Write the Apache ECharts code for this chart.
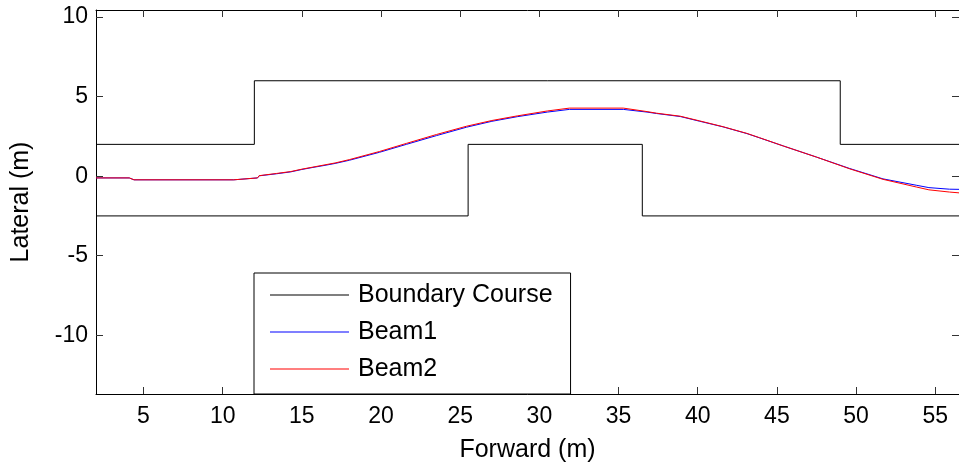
<!DOCTYPE html>
<html lang="en">
<head>
  <meta charset="UTF-8">
  <script src="https://cdn.jsdelivr.net/npm/echarts@6/dist/echarts.min.js"></script>
  <title>Boundary Course</title>
  <style>
    html, body { margin: 0; padding: 0; background: #fff; }
    #main { width: 959px; height: 472px; }
  </style>
</head>
<body>
  <div id="main"></div>
  <script>
    // course boundary (upper and lower walls)
    var upperX = [2, 12, 12, 49, 49, 56.5]
    var upperY = [2, 2, 6, 6, 2, 2]
    var lowerX = [2, 25.5, 25.5, 36.5, 36.5, 56.5]
    var lowerY = [-2.5, -2.5, 2, 2, -2.5, -2.5]

    // beam paths
    var beamX = [2, 4.1, 4.4, 10.7, 10.8, 12.2, 12.3, 13.4, 14.3, 15.0, 15.7, 16.4, 17.1, 18.0, 19.9, 21.6, 23.5, 25.4, 27.0, 28.6, 30.5, 31.9, 35.3, 36.8, 37.4, 38.9, 40.1, 41.6, 43.1, 43.9, 45.4, 47.5, 49.6, 51.7, 53.8, 54.6, 55.9, 56.5]
    var beam1Y = [-0.11, -0.11, -0.23, -0.23, -0.11, -0.11, 0.02, 0.15, 0.27, 0.42, 0.55, 0.67, 0.8, 1.0, 1.5, 2.0, 2.55, 3.08, 3.45, 3.74, 4.03, 4.2, 4.2, 4.03, 3.94, 3.75, 3.46, 3.1, 2.68, 2.41, 1.9, 1.2, 0.48, -0.17, -0.57, -0.72, -0.82, -0.83]
    var beam2Y = [-0.11, -0.11, -0.23, -0.23, -0.11, -0.11, 0.03, 0.17, 0.29, 0.44, 0.57, 0.7, 0.83, 1.04, 1.55, 2.06, 2.62, 3.14, 3.5, 3.79, 4.1, 4.28, 4.28, 4.06, 3.96, 3.77, 3.48, 3.11, 2.69, 2.42, 1.9, 1.2, 0.46, -0.2, -0.68, -0.86, -1.0, -1.05]

    var xTicks = [5, 10, 15, 20, 25, 30, 35, 40, 45, 50, 55]
    var yTicks = [-10, -5, 0, 5, 10]

    var pairs = (xs, ys) => xs.map((x, i) => [x, ys[i]])
    var font = 'Liberation Sans, Arial, sans-serif'

    var chart = echarts.init(document.getElementById('main'))

    var axisBase = {
      type: 'value',
      splitLine: { show: false },
      axisLine: { onZero: false, lineStyle: { color: '#000', width: 1 } },
      axisTick: { inside: true, length: 7, lineStyle: { color: '#333' } }
    }

    var lineSeries = (name, data, color) => ({
      name: name,
      type: 'line',
      data: data,
      symbol: 'none',
      lineStyle: { color: color, width: 1 },
      itemStyle: { color: color },
      silent: true
    })

    var option = {
      animation: false,
      backgroundColor: '#fff',
      grid: { left: 96, top: 10, width: 864, height: 384 },
      xAxis: [
        Object.assign({}, axisBase, {
          min: 2, max: 56.5, position: 'bottom',
          axisTick: Object.assign({}, axisBase.axisTick, { customValues: xTicks }),
          axisLabel: { customValues: xTicks, fontSize: 23, color: '#000', fontFamily: font, margin: 11 },
          name: 'Forward (m)', nameLocation: 'middle', nameGap: 44,
          nameTextStyle: { fontSize: 25, color: '#000', fontFamily: font }
        }),
        Object.assign({}, axisBase, {
          min: 2, max: 56.5, position: 'top',
          axisTick: Object.assign({}, axisBase.axisTick, { customValues: xTicks }),
          axisLabel: { show: false }
        })
      ],
      yAxis: [
        Object.assign({}, axisBase, {
          min: -13.7, max: 10.45, position: 'left',
          axisTick: Object.assign({}, axisBase.axisTick, { customValues: yTicks }),
          axisLabel: { customValues: yTicks, fontSize: 23, color: '#000', fontFamily: font, margin: 8 },
          name: 'Lateral (m)', nameLocation: 'middle', nameGap: 62,
          nameTextStyle: { fontSize: 25, color: '#000', fontFamily: font }
        }),
        Object.assign({}, axisBase, {
          min: -13.7, max: 10.45, position: 'right',
          axisTick: Object.assign({}, axisBase.axisTick, { customValues: yTicks }),
          axisLabel: { show: false }
        })
      ],
      legend: {
        left: 254, top: 273,
        orient: 'vertical',
        data: ['Boundary Course', 'Beam1', 'Beam2'],
        icon: 'rect',
        itemWidth: 79, itemHeight: 1,
        itemGap: 11,
        padding: [9, 18, 12, 16],
        borderColor: '#000', borderWidth: 1,
        backgroundColor: '#fff',
        selectedMode: false,
        textStyle: { fontSize: 25, color: '#000', fontFamily: font, lineHeight: 26, padding: [0, 0, 0, 4] }
      },
      series: [
        lineSeries('Boundary Course', pairs(upperX, upperY), '#000'),
        lineSeries('Boundary Course', pairs(lowerX, lowerY), '#000'),
        lineSeries('Beam1', pairs(beamX, beam1Y), '#0000ff'),
        lineSeries('Beam2', pairs(beamX, beam2Y), '#ff0000')
      ]
    }

    chart.setOption(option)
  </script>
</body>
</html>
